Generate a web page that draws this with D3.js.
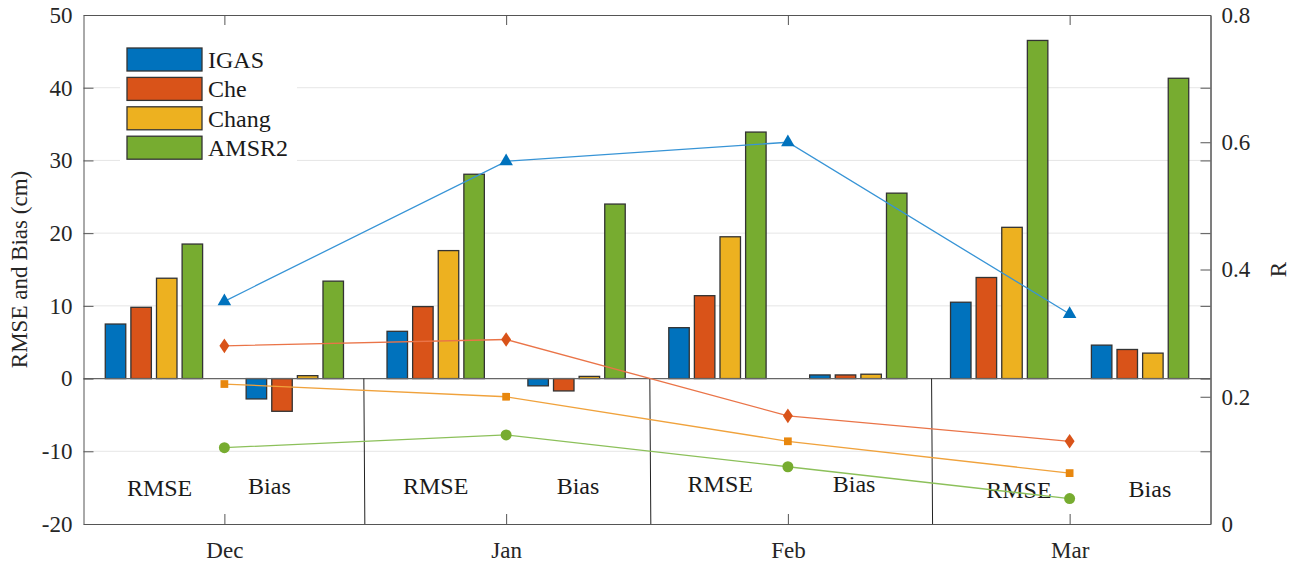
<!DOCTYPE html>
<html>
<head>
<meta charset="utf-8">
<script src="https://cdn.jsdelivr.net/npm/d3@7"></script>
<style>
  html, body { margin: 0; padding: 0; background: #fff; }
  svg { display: block; font-family: "Liberation Serif", "Times New Roman", serif; }
  svg text { font-family: "Liberation Serif", "Times New Roman", serif !important; }
</style>
</head>
<body>
<svg id="chart" width="1296" height="565"></svg>
<script>
// ---- data ----
const months = ["Dec", "Jan", "Feb", "Mar"];
const products = ["IGAS", "Che", "Chang", "AMSR2"];

// RMSE (cm) per product, Dec..Mar
const rmseIGAS  = [7.5, 6.5, 7.0, 10.5];
const rmseChe   = [9.8, 9.9, 11.4, 13.9];
const rmseChang = [13.8, 17.6, 19.5, 20.8];
const rmseAMSR2 = [18.5, 28.1, 33.9, 46.5];

// Bias (cm) per product, Dec..Mar
const biasIGAS  = [-2.8, -1.0, 0.5, 4.6];
const biasChe   = [-4.5, -1.7, 0.5, 4.0];
const biasChang = [0.4, 0.3, 0.6, 3.5];
const biasAMSR2 = [13.4, 24.0, 25.5, 41.3];

// Correlation coefficient R per product, Dec..Mar
const rIGAS  = [0.35, 0.57, 0.60, 0.33];
const rChe   = [0.28, 0.29, 0.17, 0.13];
const rChang = [0.22, 0.20, 0.13, 0.08];
const rAMSR2 = [0.12, 0.14, 0.09, 0.04];

const leftTicks = [-20, -10, 0, 10, 20, 30, 40, 50];
const rightTicks = [0, 0.2, 0.4, 0.6, 0.8];
const leftTickLabels = ["-20", "-10", "0", "10", "20", "30", "40", "50"];
const rightTickLabels = ["0", "0.2", "0.4", "0.6", "0.8"];

// in-plot group labels: [text, group position, left-axis value]
const groupLabels = [
  ["RMSE", 1.04, -16.1], ["Bias", 1.82, -15.9],
  ["RMSE", 3.00, -15.9], ["Bias", 4.01, -15.9],
  ["RMSE", 5.02, -15.6], ["Bias", 5.97, -15.6],
  ["RMSE", 7.14, -16.4], ["Bias", 8.07, -16.3]
];
// month separators (group positions)
const separators = [2.49, 4.52, 6.52];

// ---- layout ----
const svg = d3.select("#chart");
const L = 83.5, R = 1210.5, T = 15, B = 524;
const serif = "Liberation Serif, Times New Roman, serif";

const barColors = ["#0072BD", "#D95319", "#EDB120", "#77AC30"];
const lineColors = ["#3794D6", "#EA7448", "#F0A23C", "#8CC05A"];
const markerColors = ["#0072BD", "#D95319", "#E8870E", "#77AC30"];
const markerShapes = [d3.symbolTriangle, d3.symbolDiamond, d3.symbolSquare, d3.symbolCircle];
const markerSizes = [80, 68, 60, 95];

const x = d3.scaleLinear().domain([0.5, 8.5]).range([L, R]);
const yL = d3.scaleLinear().domain([-20, 50]).range([B, T]);
const yR = d3.scaleLinear().domain([0, 0.8]).range([B, T]);

const rmse = [rmseIGAS, rmseChe, rmseChang, rmseAMSR2];
const bias = [biasIGAS, biasChe, biasChang, biasAMSR2];
const rvals = [rIGAS, rChe, rChang, rAMSR2];

// gridlines
svg.append("g").selectAll("line")
  .data(leftTicks.filter(v => v !== 0 && v !== 50 && v !== -20))
  .join("line")
  .attr("x1", L).attr("x2", R)
  .attr("y1", d => yL(d)).attr("y2", d => yL(d))
  .attr("stroke", "#e6e6e6").attr("stroke-width", 1);

// grouped bars: MATLAB-style spacing
const nb = products.length;
const groupWidth = Math.min(0.8, nb / (nb + 1.5));
const step = groupWidth / nb;
const barW = step * 0.8;

const bars = [];
months.forEach((m, mi) => {
  products.forEach((p, k) => {
    const off = (k - (nb - 1) / 2) * step;
    bars.push({ k, pos: 2 * mi + 1 + off, v: rmse[k][mi] });
    bars.push({ k, pos: 2 * mi + 2 + off, v: bias[k][mi] });
  });
});

svg.append("g").selectAll("rect")
  .data(bars)
  .join("rect")
  .attr("x", d => x(d.pos - barW / 2))
  .attr("width", d => x(d.pos + barW / 2) - x(d.pos - barW / 2))
  .attr("y", d => Math.min(yL(d.v), yL(0)))
  .attr("height", d => Math.abs(yL(d.v) - yL(0)))
  .attr("fill", d => barColors[d.k])
  .attr("stroke", "#333")
  .attr("stroke-width", 1.3);

// bar baseline
svg.append("line")
  .attr("x1", L).attr("x2", R)
  .attr("y1", yL(0)).attr("y2", yL(0))
  .attr("stroke", "#666").attr("stroke-width", 1.3);

// month separators below the baseline
svg.append("g").selectAll("line")
  .data(separators)
  .join("line")
  .attr("x1", d => x(d)).attr("x2", d => x(d) + 1)
  .attr("y1", yL(0)).attr("y2", B)
  .attr("stroke", "#222").attr("stroke-width", 1);

// group labels
svg.append("g").selectAll("text")
  .data(groupLabels)
  .join("text")
  .attr("x", d => x(d[1]))
  .attr("y", d => yL(d[2]))
  .attr("text-anchor", "middle")
  .attr("font-size", 24)
  .attr("fill", "#1a1a1a")
  .text(d => d[0]);

// R lines with markers
const monthPos = months.map((m, i) => 2 * i + 1.5);
const line = d3.line().x((d, i) => x(monthPos[i])).y(d => yR(d));
rvals.forEach((vals, k) => {
  svg.append("path")
    .datum(vals)
    .attr("d", line)
    .attr("fill", "none")
    .attr("stroke", lineColors[k])
    .attr("stroke-width", 1.3);
  svg.append("g").selectAll("path")
    .data(vals)
    .join("path")
    .attr("transform", (d, i) => {
      let t = `translate(${x(monthPos[i])},${yR(d)})`;
      if (k === 1) t += " scale(1.12,0.95)";
      return t;
    })
    .attr("d", d3.symbol().type(markerShapes[k]).size(markerSizes[k]))
    .attr("fill", markerColors[k]);
});

// legend
const lg = svg.append("g");
lg.append("rect")
  .attr("x", 120).attr("y", 40).attr("width", 177).attr("height", 126)
  .attr("fill", "#fff");
products.forEach((p, k) => {
  const yy = 48 + k * 29.4;
  lg.append("rect")
    .attr("x", 127).attr("y", yy).attr("width", 75).attr("height", 23)
    .attr("fill", barColors[k]).attr("stroke", "#333").attr("stroke-width", 1.3);
  lg.append("text")
    .attr("x", 208).attr("y", yy + 11.5)
    .attr("dy", "0.35em")
    .attr("font-size", 24)
    .attr("fill", "#1a1a1a")
    .text(p);
});

// axes
const axisColor = "#555";
function styleAxis(g) {
  g.attr("font-family", serif).attr("font-size", 23);
  g.selectAll("path, line").attr("stroke", axisColor);
  g.selectAll("text").style("font-family", serif).attr("font-size", 23).attr("fill", "#262626");
}

svg.append("g")
  .attr("transform", `translate(${L},0)`)
  .call(d3.axisLeft(yL).tickValues(leftTicks).tickFormat((d, i) => leftTickLabels[i]).tickSize(-10).tickSizeOuter(0).tickPadding(11))
  .call(styleAxis);

// mirrored left-axis ticks on the right edge
svg.append("g")
  .attr("transform", `translate(${R},0)`)
  .call(d3.axisRight(yL).tickValues(leftTicks).tickFormat("").tickSize(-10).tickSizeOuter(0))
  .call(styleAxis);

svg.append("g")
  .attr("transform", `translate(${R},0)`)
  .call(d3.axisRight(yR).tickValues(rightTicks).tickFormat((d, i) => rightTickLabels[i]).tickSize(-10).tickSizeOuter(0).tickPadding(11))
  .call(styleAxis);

svg.append("g")
  .attr("transform", `translate(0,${B})`)
  .call(d3.axisBottom(x).tickValues(monthPos).tickFormat((d, i) => months[i]).tickSize(-10).tickSizeOuter(0).tickPadding(18))
  .call(styleAxis);

svg.append("g")
  .attr("transform", `translate(0,${T})`)
  .call(d3.axisTop(x).tickValues(monthPos).tickFormat("").tickSize(-10).tickSizeOuter(0))
  .call(styleAxis);

// axis titles
svg.append("text")
  .attr("transform", `translate(27,${(T + B) / 2}) rotate(-90)`)
  .attr("text-anchor", "middle")
  .attr("font-size", 23)
  .attr("fill", "#262626")
  .text("RMSE and Bias (cm)");

svg.append("text")
  .attr("transform", `translate(1286,${(T + B) / 2}) rotate(-90)`)
  .attr("text-anchor", "middle")
  .attr("font-size", 23)
  .attr("fill", "#262626")
  .text("R");
</script>
</body>
</html>
